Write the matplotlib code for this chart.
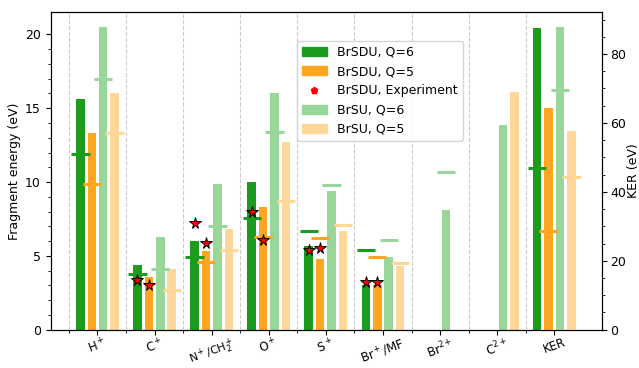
import numpy as np
import matplotlib
matplotlib.use("Agg")
import matplotlib.pyplot as plt
from matplotlib.patches import Patch
from matplotlib.lines import Line2D

nan = np.nan

categories = ["H$^+$", "C$^+$", "N$^+$/CH$_2^+$", "O$^+$", "S$^+$",
              "Br$^+$/MF", "Br$^{2+}$", "C$^{2+}$", "KER"]

# fragment energies (left axis), one value per fragment (no KER)
brsdu_q6 = [15.6, 4.4, 6.0, 10.0, 5.65, 3.05, nan, nan]
brsdu_q5 = [13.3, 3.6, 5.3, 8.3, 4.8, 3.05, nan, nan]
brsu_q6 = [20.5, 6.3, 9.9, 16.0, 9.4, 4.9, 8.1, 13.9]
brsu_q5 = [16.0, 4.1, 6.8, 12.7, 6.7, 4.3, nan, 16.1]

# short horizontal markers
brsdu_q6_h = [11.9, 3.8, 4.9, 7.6, 6.7, 5.4, nan, nan]
brsdu_q5_h = [9.9, nan, 4.6, 6.3, 6.2, 4.9, nan, nan]
brsu_q6_h = [17.0, 4.1, 7.0, 13.4, 9.8, 6.1, 10.7, nan]
brsu_q5_h = [13.3, 2.7, 5.4, 8.7, 7.1, 4.5, nan, nan]

# experiment
exp_q6 = [nan, 3.4, 7.2, 8.0, 5.4, 3.25, nan, nan]
exp_q5 = [nan, 3.0, 5.9, 6.1, 5.55, 3.2, nan, nan]

# KER (right axis): BrSDU Q=6, BrSDU Q=5, BrSU Q=6, BrSU Q=5
ker_bars = [87.5, 64.4, 87.8, 57.6]
ker_h = [46.8, 28.5, 69.5, 44.2]

plt.rcParams['font.size'] = 9

c_dg = '#1c9c1c'
c_or = '#ffa51f'
c_lg = '#99d699'
c_lo = '#ffd899'
colors = [c_dg, c_or, c_lg, c_lo]
offsets = [-0.3, -0.1, 0.1, 0.3]
w = 0.15
hw = 0.16

fig = plt.figure(figsize=(6.39, 3.68), dpi=100)
ax = fig.add_axes([0.0793, 0.104, 0.8623, 0.8626])
ax2 = ax.twinx()

x = np.arange(len(categories) - 1)
series = [brsdu_q6, brsdu_q5, brsu_q6, brsu_q5]
hseries = [brsdu_q6_h, brsdu_q5_h, brsu_q6_h, brsu_q5_h]
for s, hs, c, o in zip(series, hseries, colors, offsets):
    ax.bar(x + o, s, width=w, color=c, zorder=2)
    ax.hlines(hs, x + o - hw, x + o + hw, colors=c, lw=2.2, zorder=3)

ax.plot(x + offsets[0], exp_q6, ls='none', marker='*', ms=8.5, mfc='red',
        mec='black', mew=0.7, zorder=4)
ax.plot(x + offsets[1], exp_q5, ls='none', marker='*', ms=8.5, mfc='red',
        mec='black', mew=0.7, zorder=4)

xk = len(categories) - 1
for v, hv, c, o in zip(ker_bars, ker_h, colors, offsets):
    ax2.bar(xk + o, v, width=w, color=c, zorder=2)
    ax2.hlines(hv, xk + o - hw, xk + o + hw, colors=c, lw=2.2, zorder=3)

ax.set_xlim(-0.82, 8.83)
ax.set_ylim(0, 21.5)
ax2.set_ylim(0, 92.1)

ax.set_xticks(np.arange(len(categories)))
ax.set_xticklabels(categories, rotation=20, ha='center')
ax.tick_params(axis='x', which='major', pad=1, labelsize=8.5)
ax.get_xticklabels()[2].set_fontsize(8)
ax.set_xticks(np.arange(-0.5, 8, 1), minor=True)
ax.grid(which='minor', axis='x', ls='--', color='#cccccc', lw=0.8, zorder=0)
ax.set_yticks(np.arange(0, 21, 5))
ax.set_yticks(np.arange(0, 21, 1), minor=True)
ax2.set_yticks(np.arange(0, 81, 20))
ax2.set_yticks(np.arange(0, 92, 5), minor=True)
ax2.tick_params(axis='y', which='major', pad=2.5)

ax.set_ylabel('Fragment energy (eV)', labelpad=3)
ax2.set_ylabel('KER (eV)', labelpad=0.5)

handles = [Patch(color=c_dg), Patch(color=c_or),
           Line2D([], [], ls='none', marker='p', ms=5, mfc='red', mec='red'),
           Patch(color=c_lg), Patch(color=c_lo)]
labels = ['BrSDU, Q=6', 'BrSDU, Q=5', 'BrSDU, Experiment', 'BrSU, Q=6', 'BrSU, Q=5']
ax2.legend(handles, labels, loc='upper left', bbox_to_anchor=(0.447, 0.91),
           borderaxespad=0)

fig.savefig('out.png', dpi=100)
